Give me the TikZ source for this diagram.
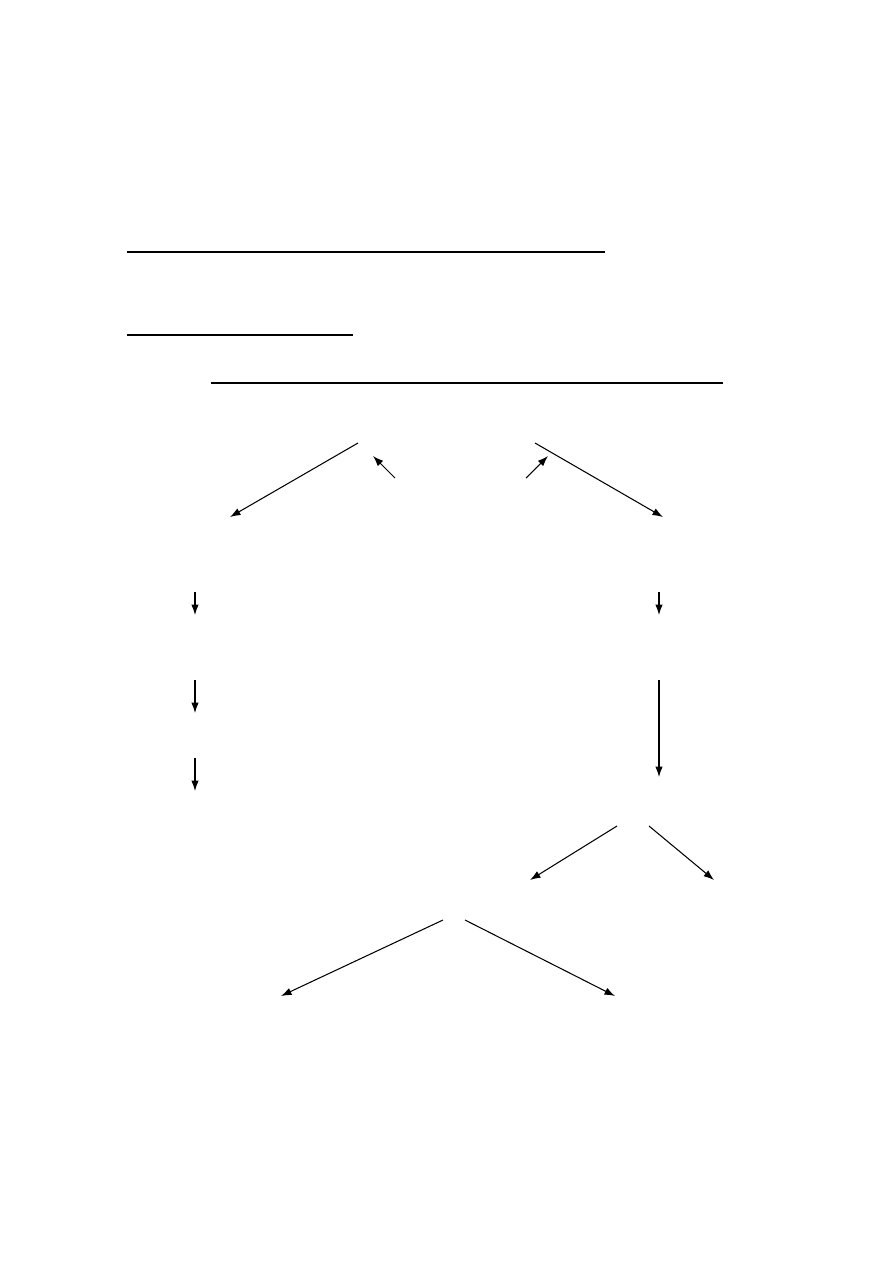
\documentclass[tikz,border=0pt]{standalone}
\usetikzlibrary{arrows.meta}

\begin{document}
\begin{tikzpicture}[x=0.6667pt,y=-0.6667pt,
       rule/.style={line width=0.7pt},
       thickrule/.style={line width=1.4pt},
       flow/.style={line width=0.7pt,-{Latex[length=7pt,width=5pt]}}]
    \useasboundingbox (0,0) rectangle (893,1263);
    % rules
    \coordinate (r1a) at (127,252); \coordinate (r1b) at (605,252);
    \coordinate (r2a) at (127,335); \coordinate (r2b) at (353,335);
    \coordinate (r3a) at (211,383); \coordinate (r3b) at (723,383);
    \draw[rule] (r1a) -- (r1b);
    \draw[rule] (r2a) -- (r2b);
    \draw[thickrule] (r3a) -- (r3b);
    % top split
    \coordinate (topL) at (358,443); \coordinate (outL) at (230,517);
    \coordinate (topR) at (535,443); \coordinate (outR) at (663,517);
    \coordinate (inLa) at (395,478); \coordinate (inLb) at (373,456);
    \coordinate (inRa) at (526,478); \coordinate (inRb) at (548,456);
    \draw[flow] (topL) -- (outL);
    \draw[flow] (topR) -- (outR);
    \draw[flow] (inLa) -- (inLb);
    \draw[flow] (inRa) -- (inRb);
    % left column
    \coordinate (l1a) at (195,592); \coordinate (l1b) at (195,615);
    \coordinate (l2a) at (195,680); \coordinate (l2b) at (195,713);
    \coordinate (l3a) at (195,758); \coordinate (l3b) at (195,791);
    \draw[flow] (l1a) -- (l1b);
    \draw[flow] (l2a) -- (l2b);
    \draw[flow] (l3a) -- (l3b);
    % right column
    \coordinate (c1a) at (659,592); \coordinate (c1b) at (659,615);
    \coordinate (c2a) at (659,680); \coordinate (c2b) at (659,777);
    \draw[flow] (c1a) -- (c1b);
    \draw[flow] (c2a) -- (c2b);
    % lower splits
    \coordinate (s1L) at (617,826); \coordinate (e1L) at (530,880);
    \coordinate (s1R) at (649,826); \coordinate (e1R) at (714,880);
    \draw[flow] (s1L) -- (e1L);
    \draw[flow] (s1R) -- (e1R);
    \coordinate (s2L) at (443,920); \coordinate (e2L) at (281,996);
    \coordinate (s2R) at (465,920); \coordinate (e2R) at (615,996);
    \draw[flow] (s2L) -- (e2L);
    \draw[flow] (s2R) -- (e2R);
\end{tikzpicture}
\end{document}
